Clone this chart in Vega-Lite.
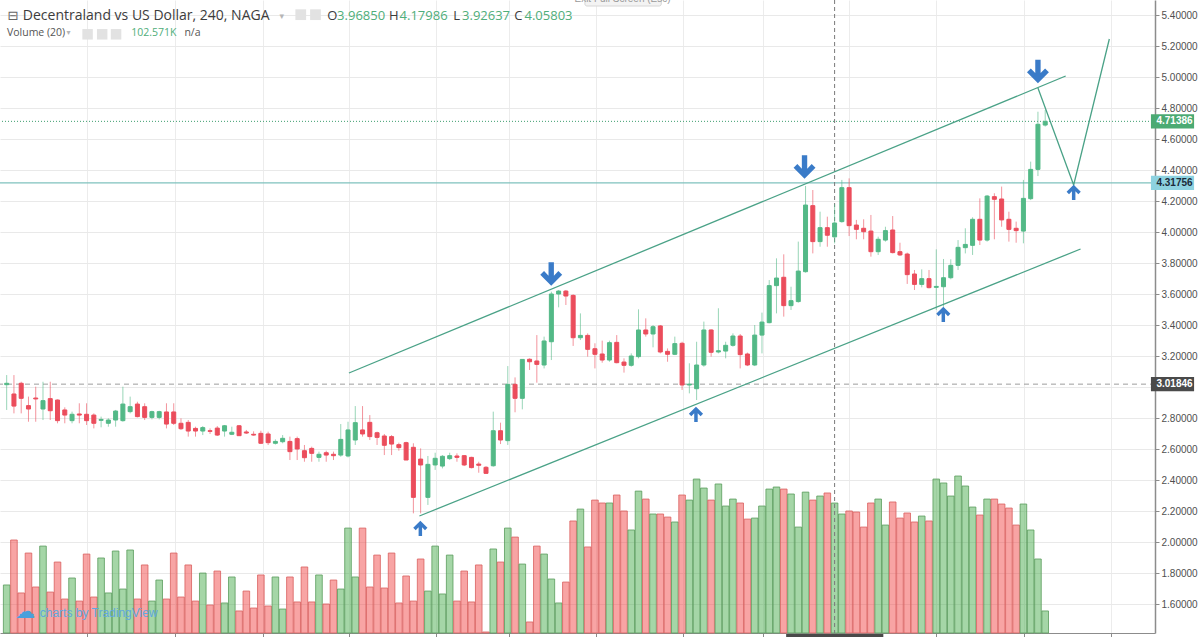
{
  "$schema": "https://vega.github.io/schema/vega-lite/v6.json",
  "width": 1155,
  "height": 633,
  "autosize": {"type": "none"},
  "padding": {"left": 0, "top": 0, "right": 45, "bottom": 4},
  "background": "white",
  "config": {"view": {"stroke": null}, "font": "Liberation Sans"},
  "data": {"values": [{}]},
  "datasets": {
    "candles": [
      {"i":0,"o":3.015,"h":3.077,"l":2.852,"c":3.024,"v":37.9},
      {"i":1,"o":2.955,"h":3.077,"l":2.830,"c":2.877,"v":73.4},
      {"i":2,"o":3.024,"h":3.034,"l":2.830,"c":2.927,"v":31.6},
      {"i":3,"o":2.880,"h":2.938,"l":2.776,"c":2.858,"v":63.1},
      {"i":4,"o":2.929,"h":3.002,"l":2.776,"c":2.923,"v":36.3},
      {"i":5,"o":2.858,"h":3.034,"l":2.787,"c":2.912,"v":68.6},
      {"i":6,"o":2.925,"h":3.034,"l":2.787,"c":2.847,"v":32.3},
      {"i":7,"o":2.916,"h":2.920,"l":2.766,"c":2.783,"v":56.0},
      {"i":8,"o":2.852,"h":2.869,"l":2.766,"c":2.819,"v":26.8},
      {"i":9,"o":2.783,"h":2.841,"l":2.766,"c":2.824,"v":43.4},
      {"i":10,"o":2.826,"h":2.895,"l":2.766,"c":2.819,"v":25.2},
      {"i":11,"o":2.824,"h":2.895,"l":2.755,"c":2.783,"v":62.3},
      {"i":12,"o":2.819,"h":2.830,"l":2.733,"c":2.766,"v":28.4},
      {"i":13,"o":2.785,"h":2.809,"l":2.740,"c":2.791,"v":59.2},
      {"i":14,"o":2.766,"h":2.798,"l":2.744,"c":2.787,"v":31.6},
      {"i":15,"o":2.787,"h":2.852,"l":2.744,"c":2.845,"v":64.7},
      {"i":16,"o":2.783,"h":3.002,"l":2.776,"c":2.890,"v":34.7},
      {"i":17,"o":2.841,"h":2.938,"l":2.830,"c":2.873,"v":65.5},
      {"i":18,"o":2.890,"h":2.905,"l":2.804,"c":2.809,"v":26.8},
      {"i":19,"o":2.873,"h":2.895,"l":2.787,"c":2.804,"v":53.7},
      {"i":20,"o":2.804,"h":2.847,"l":2.791,"c":2.841,"v":25.2},
      {"i":21,"o":2.804,"h":2.847,"l":2.791,"c":2.841,"v":41.8},
      {"i":22,"o":2.839,"h":2.895,"l":2.733,"c":2.761,"v":26.8},
      {"i":23,"o":2.839,"h":2.895,"l":2.755,"c":2.766,"v":63.1},
      {"i":24,"o":2.766,"h":2.798,"l":2.723,"c":2.731,"v":28.4},
      {"i":25,"o":2.772,"h":2.787,"l":2.680,"c":2.716,"v":53.7},
      {"i":26,"o":2.733,"h":2.744,"l":2.680,"c":2.716,"v":25.2},
      {"i":27,"o":2.716,"h":2.748,"l":2.690,"c":2.738,"v":47.3},
      {"i":28,"o":2.718,"h":2.733,"l":2.697,"c":2.714,"v":22.1},
      {"i":29,"o":2.735,"h":2.748,"l":2.684,"c":2.690,"v":48.9},
      {"i":30,"o":2.716,"h":2.755,"l":2.680,"c":2.750,"v":23.7},
      {"i":31,"o":2.695,"h":2.744,"l":2.690,"c":2.708,"v":44.2},
      {"i":32,"o":2.750,"h":2.755,"l":2.684,"c":2.686,"v":17.4},
      {"i":33,"o":2.710,"h":2.723,"l":2.697,"c":2.703,"v":33.1},
      {"i":34,"o":2.695,"h":2.714,"l":2.686,"c":2.690,"v":19.7},
      {"i":35,"o":2.701,"h":2.718,"l":2.632,"c":2.637,"v":45.8},
      {"i":36,"o":2.697,"h":2.712,"l":2.626,"c":2.641,"v":21.3},
      {"i":37,"o":2.637,"h":2.662,"l":2.629,"c":2.649,"v":44.2},
      {"i":38,"o":2.647,"h":2.690,"l":2.637,"c":2.669,"v":18.9},
      {"i":39,"o":2.649,"h":2.680,"l":2.529,"c":2.583,"v":44.2},
      {"i":40,"o":2.667,"h":2.680,"l":2.529,"c":2.600,"v":24.5},
      {"i":41,"o":2.589,"h":2.626,"l":2.518,"c":2.544,"v":52.1},
      {"i":42,"o":2.604,"h":2.615,"l":2.518,"c":2.572,"v":24.5},
      {"i":43,"o":2.546,"h":2.583,"l":2.518,"c":2.566,"v":45.8},
      {"i":44,"o":2.576,"h":2.589,"l":2.518,"c":2.561,"v":22.9},
      {"i":45,"o":2.566,"h":2.583,"l":2.529,"c":2.557,"v":41.8},
      {"i":46,"o":2.561,"h":2.761,"l":2.550,"c":2.662,"v":34.7},
      {"i":47,"o":2.555,"h":2.776,"l":2.546,"c":2.723,"v":82.8},
      {"i":48,"o":2.658,"h":2.877,"l":2.626,"c":2.770,"v":44.2},
      {"i":49,"o":2.723,"h":2.877,"l":2.680,"c":2.697,"v":82.8},
      {"i":50,"o":2.772,"h":2.819,"l":2.658,"c":2.680,"v":36.3},
      {"i":51,"o":2.705,"h":2.712,"l":2.626,"c":2.675,"v":61.5},
      {"i":52,"o":2.684,"h":2.697,"l":2.561,"c":2.624,"v":35.5},
      {"i":53,"o":2.680,"h":2.690,"l":2.561,"c":2.632,"v":63.1},
      {"i":54,"o":2.628,"h":2.641,"l":2.589,"c":2.609,"v":23.7},
      {"i":55,"o":2.641,"h":2.647,"l":2.529,"c":2.529,"v":45.0},
      {"i":56,"o":2.611,"h":2.637,"l":2.185,"c":2.288,"v":25.2},
      {"i":57,"o":2.535,"h":2.604,"l":2.185,"c":2.497,"v":58.4},
      {"i":58,"o":2.288,"h":2.555,"l":2.239,"c":2.501,"v":33.1},
      {"i":59,"o":2.497,"h":2.576,"l":2.465,"c":2.540,"v":68.6},
      {"i":60,"o":2.490,"h":2.561,"l":2.475,"c":2.553,"v":30.8},
      {"i":61,"o":2.538,"h":2.576,"l":2.529,"c":2.557,"v":61.5},
      {"i":62,"o":2.555,"h":2.572,"l":2.518,"c":2.546,"v":25.2},
      {"i":63,"o":2.557,"h":2.561,"l":2.490,"c":2.497,"v":48.9},
      {"i":64,"o":2.546,"h":2.550,"l":2.475,"c":2.480,"v":24.5},
      {"i":65,"o":2.503,"h":2.518,"l":2.447,"c":2.495,"v":53.7},
      {"i":66,"o":2.482,"h":2.490,"l":2.439,"c":2.443,"v":0.8},
      {"i":67,"o":2.492,"h":2.841,"l":2.486,"c":2.718,"v":66.3},
      {"i":68,"o":2.718,"h":2.770,"l":2.632,"c":2.658,"v":56.0},
      {"i":69,"o":2.654,"h":3.135,"l":2.626,"c":3.017,"v":82.8},
      {"i":70,"o":3.017,"h":3.062,"l":2.837,"c":2.927,"v":75.7},
      {"i":71,"o":2.927,"h":3.178,"l":2.856,"c":3.178,"v":54.4},
      {"i":72,"o":3.179,"h":3.185,"l":3.110,"c":3.163,"v":8.7},
      {"i":73,"o":3.168,"h":3.335,"l":3.028,"c":3.146,"v":68.6},
      {"i":74,"o":3.142,"h":3.325,"l":3.120,"c":3.297,"v":62.3},
      {"i":75,"o":3.292,"h":3.615,"l":3.174,"c":3.600,"v":42.6},
      {"i":76,"o":3.600,"h":3.626,"l":3.514,"c":3.619,"v":23.7},
      {"i":77,"o":3.619,"h":3.626,"l":3.529,"c":3.587,"v":40.2},
      {"i":78,"o":3.591,"h":3.598,"l":3.265,"c":3.318,"v":88.4},
      {"i":79,"o":3.318,"h":3.475,"l":3.303,"c":3.333,"v":97.8},
      {"i":80,"o":3.333,"h":3.346,"l":3.196,"c":3.243,"v":67.9},
      {"i":81,"o":3.247,"h":3.282,"l":3.120,"c":3.211,"v":104.9},
      {"i":82,"o":3.213,"h":3.299,"l":3.157,"c":3.174,"v":102.6},
      {"i":83,"o":3.174,"h":3.299,"l":3.163,"c":3.286,"v":102.6},
      {"i":84,"o":3.288,"h":3.335,"l":3.153,"c":3.157,"v":108.9},
      {"i":85,"o":3.161,"h":3.185,"l":3.093,"c":3.140,"v":96.3},
      {"i":86,"o":3.140,"h":3.217,"l":3.131,"c":3.200,"v":81.3},
      {"i":87,"o":3.196,"h":3.501,"l":3.185,"c":3.368,"v":112.0},
      {"i":88,"o":3.368,"h":3.443,"l":3.325,"c":3.342,"v":105.7},
      {"i":89,"o":3.342,"h":3.400,"l":3.256,"c":3.389,"v":93.9},
      {"i":90,"o":3.394,"h":3.400,"l":3.217,"c":3.226,"v":93.9},
      {"i":91,"o":3.230,"h":3.249,"l":3.163,"c":3.211,"v":91.5},
      {"i":92,"o":3.211,"h":3.325,"l":3.206,"c":3.280,"v":87.6},
      {"i":93,"o":3.282,"h":3.292,"l":2.981,"c":3.013,"v":108.9},
      {"i":94,"o":3.013,"h":3.153,"l":2.959,"c":3.019,"v":104.9},
      {"i":95,"o":2.989,"h":3.292,"l":2.916,"c":3.142,"v":121.5},
      {"i":96,"o":3.142,"h":3.422,"l":3.131,"c":3.368,"v":114.4},
      {"i":97,"o":3.368,"h":3.372,"l":3.196,"c":3.224,"v":104.9},
      {"i":98,"o":3.226,"h":3.508,"l":3.217,"c":3.234,"v":117.6},
      {"i":99,"o":3.232,"h":3.292,"l":3.185,"c":3.269,"v":100.2},
      {"i":100,"o":3.269,"h":3.346,"l":3.260,"c":3.329,"v":105.7},
      {"i":101,"o":3.329,"h":3.342,"l":3.120,"c":3.209,"v":102.6},
      {"i":102,"o":3.213,"h":3.222,"l":3.135,"c":3.142,"v":89.9},
      {"i":103,"o":3.142,"h":3.400,"l":3.135,"c":3.335,"v":90.7},
      {"i":104,"o":3.335,"h":3.480,"l":3.217,"c":3.419,"v":100.2},
      {"i":105,"o":3.415,"h":3.690,"l":3.411,"c":3.654,"v":113.6},
      {"i":106,"o":3.654,"h":3.830,"l":3.475,"c":3.703,"v":115.2},
      {"i":107,"o":3.708,"h":3.856,"l":3.454,"c":3.525,"v":113.6},
      {"i":108,"o":3.525,"h":3.647,"l":3.497,"c":3.557,"v":109.7},
      {"i":109,"o":3.551,"h":3.938,"l":3.544,"c":3.748,"v":83.6},
      {"i":110,"o":3.744,"h":4.297,"l":3.738,"c":4.174,"v":111.2},
      {"i":111,"o":4.170,"h":4.271,"l":3.862,"c":3.938,"v":104.9},
      {"i":112,"o":3.938,"h":4.131,"l":3.905,"c":4.028,"v":108.1},
      {"i":113,"o":4.028,"h":4.099,"l":3.905,"c":3.979,"v":110.5},
      {"i":114,"o":3.9685,"h":4.17986,"l":3.92637,"c":4.05803,"v":102.571},
      {"i":115,"o":4.067,"h":4.336,"l":4.060,"c":4.286,"v":93.9},
      {"i":116,"o":4.286,"h":4.346,"l":3.974,"c":4.041,"v":96.3},
      {"i":117,"o":4.045,"h":4.078,"l":3.953,"c":4.017,"v":95.5},
      {"i":118,"o":4.024,"h":4.082,"l":3.953,"c":4.002,"v":83.6},
      {"i":119,"o":4.006,"h":4.110,"l":3.841,"c":3.873,"v":102.6},
      {"i":120,"o":3.873,"h":3.970,"l":3.852,"c":3.953,"v":105.7},
      {"i":121,"o":3.948,"h":4.034,"l":3.938,"c":4.009,"v":85.2},
      {"i":122,"o":4.013,"h":4.103,"l":3.862,"c":3.867,"v":103.4},
      {"i":123,"o":3.873,"h":3.931,"l":3.845,"c":3.852,"v":90.7},
      {"i":124,"o":3.858,"h":3.867,"l":3.665,"c":3.725,"v":94.7},
      {"i":125,"o":3.729,"h":3.755,"l":3.626,"c":3.662,"v":87.6},
      {"i":126,"o":3.662,"h":3.759,"l":3.643,"c":3.699,"v":92.3},
      {"i":127,"o":3.699,"h":3.755,"l":3.636,"c":3.641,"v":88.4},
      {"i":128,"o":3.643,"h":3.888,"l":3.497,"c":3.649,"v":121.5},
      {"i":129,"o":3.647,"h":3.826,"l":3.518,"c":3.705,"v":118.4},
      {"i":130,"o":3.705,"h":3.824,"l":3.695,"c":3.785,"v":108.1},
      {"i":131,"o":3.785,"h":3.948,"l":3.755,"c":3.901,"v":123.9},
      {"i":132,"o":3.899,"h":4.024,"l":3.862,"c":3.920,"v":116.0},
      {"i":133,"o":3.914,"h":4.095,"l":3.852,"c":4.082,"v":99.4},
      {"i":134,"o":4.082,"h":4.217,"l":3.916,"c":3.948,"v":93.1},
      {"i":135,"o":3.948,"h":4.239,"l":3.938,"c":4.232,"v":105.7},
      {"i":136,"o":4.228,"h":4.250,"l":3.953,"c":4.211,"v":105.7},
      {"i":137,"o":4.213,"h":4.293,"l":4.034,"c":4.078,"v":101.8},
      {"i":138,"o":4.082,"h":4.131,"l":3.938,"c":4.017,"v":98.6},
      {"i":139,"o":4.024,"h":4.067,"l":3.931,"c":4.009,"v":85.2},
      {"i":140,"o":4.006,"h":4.336,"l":3.927,"c":4.217,"v":101.8},
      {"i":141,"o":4.215,"h":4.454,"l":4.206,"c":4.404,"v":81.3},
      {"i":142,"o":4.404,"h":4.776,"l":4.361,"c":4.695,"v":58.4},
      {"i":143,"o":4.690,"h":4.787,"l":4.680,"c":4.71386,"v":17.4}
    ],
    "trend": [
      {"seg":"upper","k":0,"x":47.13,"p":3.0903},
      {"seg":"upper","k":1,"x":145.82,"p":5.0065},
      {"seg":"lower","k":0,"x":56.83,"p":2.1678},
      {"seg":"lower","k":1,"x":147.87,"p":3.8903},
      {"seg":"path","k":0,"x":142.0,"p":4.929},
      {"seg":"path","k":1,"x":146.92,"p":4.3032},
      {"seg":"path","k":2,"x":151.83,"p":5.2452}
    ],
    "arrows": [
      {"x":74.98,"p":3.7258,"dir":"down"},
      {"x":109.86,"p":4.4161,"dir":"down"},
      {"x":142.0,"p":5.0323,"dir":"down"},
      {"x":56.96,"p":2.0903,"dir":"up"},
      {"x":94.91,"p":2.8258,"dir":"up"},
      {"x":128.97,"p":3.471,"dir":"up"},
      {"x":146.92,"p":4.2581,"dir":"up"}
    ]
  },
  "layer": [
    {
      "data": {"name": "candles"},
      "mark": {"type": "bar", "size": 6.6, "strokeWidth": 1, "fillOpacity": 0.5, "strokeOpacity": 0.8},
      "encoding": {
        "x": {"field": "i", "type": "quantitative",
              "scale": {"domain": [-0.232, 157.43], "nice": false, "zero": false},
              "axis": {"values": [11.1, 23.2, 35.25, 47.1, 59.1, 69.15, 81.1, 93.1, 104.2, 116.0, 127.95, 140.05, 152.1],
                       "tickCount": 30, "labels": false, "title": null, "grid": true, "gridColor": "#ececec",
                       "tickSize": 4, "tickColor": "#8c8c8c", "domainColor": "#8c8c8c", "domainWidth": 1}},
        "y": {"field": "v", "type": "quantitative", "scale": {"domain": [0, 499.6], "nice": false}, "axis": null},
        "fill": {"condition": {"test": "datum.c >= datum.o", "value": "#4cae50"}, "value": "#f24a4a"},
        "stroke": {"condition": {"test": "datum.c >= datum.o", "value": "#5a9c5d"}, "value": "#d9605f"}
      }
    },
    {
      "layer": [
        {
          "mark": {"type": "rule", "color": "#9e9e9e", "strokeDash": [5, 4], "strokeWidth": 1},
          "encoding": {"y": {"datum": 3.01846, "type": "quantitative"}}
        },
        {
          "mark": {"type": "rule", "color": "#7fc2be", "strokeWidth": 1.2},
          "encoding": {"y": {"datum": 4.31756, "type": "quantitative"}}
        },
        {
          "mark": {"type": "rule", "color": "#3d9e6e", "strokeDash": [1, 2], "strokeWidth": 1},
          "encoding": {"y": {"datum": 4.71386, "type": "quantitative"}}
        },
        {
          "mark": {"type": "rule", "color": "#7a7a7a", "strokeDash": [4, 3], "strokeWidth": 1},
          "encoding": {"x": {"datum": 114, "type": "quantitative"}}
        },
        {
          "data": {"name": "candles"},
          "mark": {"type": "rule", "strokeWidth": 1, "opacity": 0.6},
          "encoding": {
            "x": {"field": "i", "type": "quantitative"},
            "y": {"field": "l", "type": "quantitative",
                  "scale": {"domain": [1.413, 5.4968], "nice": false, "zero": false},
                  "axis": {"orient": "right", "values": [1.6,1.8,2,2.2,2.4,2.6,2.8,3,3.2,3.4,3.6,3.8,4,4.2,4.4,4.6,4.8,5,5.2,5.4],
                           "tickCount": 30,
                           "format": ".5f", "labelExpr": "abs(datum.value - 3) < 0.001 ? '' : datum.label",
                           "title": null, "grid": true, "gridColor": "#e9e9e9",
                           "tickSize": 4, "tickColor": "#8c8c8c", "domainColor": "#8c8c8c", "domainWidth": 1.5,
                           "labelFont": "Liberation Sans", "labelFontSize": 10, "labelColor": "#4f4f4f", "labelPadding": 2,
                           "labelOverlap": false}},
            "y2": {"field": "h"},
            "color": {"condition": {"test": "datum.c >= datum.o", "value": "#53b987"}, "value": "#eb4d5c"}
          }
        },
        {
          "data": {"name": "candles"},
          "mark": {"type": "bar", "size": 4, "strokeWidth": 1},
          "encoding": {
            "x": {"field": "i", "type": "quantitative"},
            "y": {"field": "o", "type": "quantitative"},
            "y2": {"field": "c"},
            "fill": {"condition": {"test": "datum.c >= datum.o", "value": "#53b987"}, "value": "#eb4d5c"},
            "stroke": {"condition": {"test": "datum.c >= datum.o", "value": "#53b987"}, "value": "#eb4d5c"}
          }
        },
        {
          "data": {"name": "trend"},
          "mark": {"type": "line", "color": "#4aa287", "strokeWidth": 1.3},
          "encoding": {
            "x": {"field": "x", "type": "quantitative"},
            "y": {"field": "p", "type": "quantitative"},
            "detail": {"field": "seg"},
            "order": {"field": "k", "type": "quantitative"}
          }
        },
        {
          "data": {"name": "arrows"},
          "mark": {"type": "point", "filled": true, "fill": "#3a7bc8", "opacity": 1, "strokeWidth": 0},
          "encoding": {
            "x": {"field": "x", "type": "quantitative"},
            "y": {"field": "p", "type": "quantitative"},
            "shape": {"condition": {"test": "datum.dir == 'down'", "value": "M-0.24,-1.1 L0.24,-1.1 L0.24,0.1 L0.64,-0.32 L0.98,0.02 L0,1 L-0.98,0.02 L-0.64,-0.32 L-0.24,0.1 Z"},
                      "value": "M-0.24,1.1 L0.24,1.1 L0.24,-0.1 L0.64,0.32 L0.98,-0.02 L0,-1 L-0.98,-0.02 L-0.64,0.32 L-0.24,-0.1 Z"},
            "size": {"condition": {"test": "datum.dir == 'down'", "value": 500}, "value": 210}
          }
        },
        {
          "mark": {"type": "rect", "color": "#4baa73"},
          "encoding": {"x": {"datum": 157.56, "type": "quantitative"}, "x2": {"datum": 163.5},
                       "y": {"datum": 4.76, "type": "quantitative"}, "y2": {"datum": 4.667}}
        },
        {
          "mark": {"type": "text", "align": "left", "baseline": "middle", "font": "Liberation Sans", "fontSize": 10, "fontWeight": "bold", "color": "white"},
          "encoding": {"x": {"datum": 158.32, "type": "quantitative"}, "y": {"datum": 4.71386, "type": "quantitative"}, "text": {"value": "4.71386"}}
        },
        {
          "mark": {"type": "rect", "color": "#8dd2e0"},
          "encoding": {"x": {"datum": 157.56, "type": "quantitative"}, "x2": {"datum": 163.5},
                       "y": {"datum": 4.3636, "type": "quantitative"}, "y2": {"datum": 4.2715}}
        },
        {
          "mark": {"type": "text", "align": "left", "baseline": "middle", "font": "Liberation Sans", "fontSize": 10, "fontWeight": "bold", "color": "#1c2b3a"},
          "encoding": {"x": {"datum": 158.32, "type": "quantitative"}, "y": {"datum": 4.31756, "type": "quantitative"}, "text": {"value": "4.31756"}}
        },
        {
          "mark": {"type": "rect", "color": "#4a4a4a"},
          "encoding": {"x": {"datum": 157.56, "type": "quantitative"}, "x2": {"datum": 163.5},
                       "y": {"datum": 3.0645, "type": "quantitative"}, "y2": {"datum": 2.9724}}
        },
        {
          "mark": {"type": "text", "align": "left", "baseline": "middle", "font": "Liberation Sans", "fontSize": 10, "fontWeight": "bold", "color": "white"},
          "encoding": {"x": {"datum": 158.32, "type": "quantitative"}, "y": {"datum": 3.01846, "type": "quantitative"}, "text": {"value": "3.01846"}}
        },
        {
          "mark": {"type": "rect", "color": "#4a4a4a"},
          "encoding": {"x": {"datum": 107.33, "type": "quantitative"}, "x2": {"datum": 120.71},
                       "y": {"datum": 1.4065, "type": "quantitative"}, "y2": {"datum": 1.368}}
        },
        {
          "mark": {"type": "rect", "fill": "#f3f3f3", "stroke": "#d6d6d6", "strokeWidth": 1, "cornerRadius": 2},
          "encoding": {"x": {"datum": 79.62, "type": "quantitative"}, "x2": {"datum": 90.13},
                       "y": {"datum": 5.626, "type": "quantitative"}, "y2": {"datum": 5.458}}
        },
        {
          "mark": {"type": "text", "align": "center", "baseline": "middle", "font": "Liberation Sans", "fontSize": 10, "color": "#9a9a9a"},
          "encoding": {"x": {"datum": 84.8, "type": "quantitative"}, "y": {"datum": 5.5033, "type": "quantitative"}, "text": {"value": "Exit Full Screen (Esc)"}}
        },
        {
          "mark": {"type": "text", "align": "left", "baseline": "middle", "font": "DejaVu Sans", "fontSize": 13, "color": "#666666"},
          "encoding": {"x": {"datum": 0.1, "type": "quantitative"}, "y": {"datum": 5.3968, "type": "quantitative"}, "text": {"value": "⊟"}}
        },
        {
          "mark": {"type": "text", "align": "left", "baseline": "middle", "font": "Open Sans", "fontSize": 14, "color": "#3c3c3c"},
          "encoding": {"x": {"datum": 2.225, "type": "quantitative"}, "y": {"datum": 5.3968, "type": "quantitative"}, "text": {"value": "Decentraland vs US Dollar, 240, NAGA"}}
        },
        {
          "mark": {"type": "text", "align": "left", "baseline": "middle", "font": "DejaVu Sans", "fontSize": 9, "color": "#b5b5b5"},
          "encoding": {"x": {"datum": 37.58, "type": "quantitative"}, "y": {"datum": 5.3968, "type": "quantitative"}, "text": {"value": "▾"}}
        },
        {
          "mark": {"type": "point", "shape": "square", "filled": true, "fill": "#e2e2e2", "opacity": 1, "size": 115},
          "encoding": {"x": {"datum": 40.49, "type": "quantitative"}, "y": {"datum": 5.402, "type": "quantitative"}}
        },
        {
          "mark": {"type": "point", "shape": "square", "filled": true, "fill": "#e2e2e2", "opacity": 1, "size": 115},
          "encoding": {"x": {"datum": 42.52, "type": "quantitative"}, "y": {"datum": 5.402, "type": "quantitative"}}
        },
        {
          "mark": {"type": "text", "align": "left", "baseline": "middle", "font": "Open Sans", "fontSize": 13, "color": "#3c3c3c"},
          "encoding": {"x": {"datum": 44.13, "type": "quantitative"}, "y": {"datum": 5.3968, "type": "quantitative"}, "text": {"value": "O"}}
        },
        {
          "mark": {"type": "text", "align": "left", "baseline": "middle", "font": "Open Sans", "fontSize": 13, "color": "#4fae7a"},
          "encoding": {"x": {"datum": 45.5, "type": "quantitative"}, "y": {"datum": 5.3968, "type": "quantitative"}, "text": {"value": "3.96850"}}
        },
        {
          "mark": {"type": "text", "align": "left", "baseline": "middle", "font": "Open Sans", "fontSize": 13, "color": "#3c3c3c"},
          "encoding": {"x": {"datum": 52.63, "type": "quantitative"}, "y": {"datum": 5.3968, "type": "quantitative"}, "text": {"value": "H"}}
        },
        {
          "mark": {"type": "text", "align": "left", "baseline": "middle", "font": "Open Sans", "fontSize": 13, "color": "#4fae7a"},
          "encoding": {"x": {"datum": 54.1, "type": "quantitative"}, "y": {"datum": 5.3968, "type": "quantitative"}, "text": {"value": "4.17986"}}
        },
        {
          "mark": {"type": "text", "align": "left", "baseline": "middle", "font": "Open Sans", "fontSize": 13, "color": "#3c3c3c"},
          "encoding": {"x": {"datum": 61.5, "type": "quantitative"}, "y": {"datum": 5.3968, "type": "quantitative"}, "text": {"value": "L"}}
        },
        {
          "mark": {"type": "text", "align": "left", "baseline": "middle", "font": "Open Sans", "fontSize": 13, "color": "#4fae7a"},
          "encoding": {"x": {"datum": 62.7, "type": "quantitative"}, "y": {"datum": 5.3968, "type": "quantitative"}, "text": {"value": "3.92637"}}
        },
        {
          "mark": {"type": "text", "align": "left", "baseline": "middle", "font": "Open Sans", "fontSize": 13, "color": "#3c3c3c"},
          "encoding": {"x": {"datum": 69.9, "type": "quantitative"}, "y": {"datum": 5.3968, "type": "quantitative"}, "text": {"value": "C"}}
        },
        {
          "mark": {"type": "text", "align": "left", "baseline": "middle", "font": "Open Sans", "fontSize": 13, "color": "#4fae7a"},
          "encoding": {"x": {"datum": 71.3, "type": "quantitative"}, "y": {"datum": 5.3968, "type": "quantitative"}, "text": {"value": "4.05803"}}
        },
        {
          "mark": {"type": "text", "align": "left", "baseline": "middle", "font": "Open Sans", "fontSize": 10.5, "color": "#555555"},
          "encoding": {"x": {"datum": 0.04, "type": "quantitative"}, "y": {"datum": 5.2807, "type": "quantitative"}, "text": {"value": "Volume (20)"}}
        },
        {
          "mark": {"type": "text", "align": "left", "baseline": "middle", "font": "DejaVu Sans", "fontSize": 8, "color": "#b5b5b5"},
          "encoding": {"x": {"datum": 8.23, "type": "quantitative"}, "y": {"datum": 5.2807, "type": "quantitative"}, "text": {"value": "▾"}}
        },
        {
          "mark": {"type": "point", "shape": "square", "filled": true, "fill": "#e2e2e2", "opacity": 1, "size": 110},
          "encoding": {"x": {"datum": 11.14, "type": "quantitative"}, "y": {"datum": 5.2755, "type": "quantitative"}}
        },
        {
          "mark": {"type": "point", "shape": "square", "filled": true, "fill": "#e2e2e2", "opacity": 1, "size": 110},
          "encoding": {"x": {"datum": 13.15, "type": "quantitative"}, "y": {"datum": 5.2755, "type": "quantitative"}}
        },
        {
          "mark": {"type": "point", "shape": "square", "filled": true, "fill": "#e2e2e2", "opacity": 1, "size": 110},
          "encoding": {"x": {"datum": 15.06, "type": "quantitative"}, "y": {"datum": 5.2755, "type": "quantitative"}}
        },
        {
          "mark": {"type": "text", "align": "left", "baseline": "middle", "font": "Open Sans", "fontSize": 10.5, "color": "#4fae7a"},
          "encoding": {"x": {"datum": 17.14, "type": "quantitative"}, "y": {"datum": 5.2807, "type": "quantitative"}, "text": {"value": "102.571K"}}
        },
        {
          "mark": {"type": "text", "align": "left", "baseline": "middle", "font": "Open Sans", "fontSize": 10.5, "color": "#555555"},
          "encoding": {"x": {"datum": 24.47, "type": "quantitative"}, "y": {"datum": 5.2807, "type": "quantitative"}, "text": {"value": "n/a"}}
        },
        {
          "mark": {"type": "text", "align": "center", "baseline": "middle", "font": "DejaVu Sans", "fontSize": 20, "color": "#4aa0dc"},
          "encoding": {"x": {"datum": 2.57, "type": "quantitative"}, "y": {"datum": 1.5484, "type": "quantitative"}, "text": {"value": "☁"}}
        },
        {
          "mark": {"type": "text", "align": "left", "baseline": "middle", "font": "Liberation Sans", "fontSize": 12, "color": "#5fa8de"},
          "encoding": {"x": {"datum": 4.55, "type": "quantitative"}, "y": {"datum": 1.5419, "type": "quantitative"}, "text": {"value": "charts by TradingView"}}
        }
      ]
    }
  ],
  "resolve": {"scale": {"y": "independent"}}
}
